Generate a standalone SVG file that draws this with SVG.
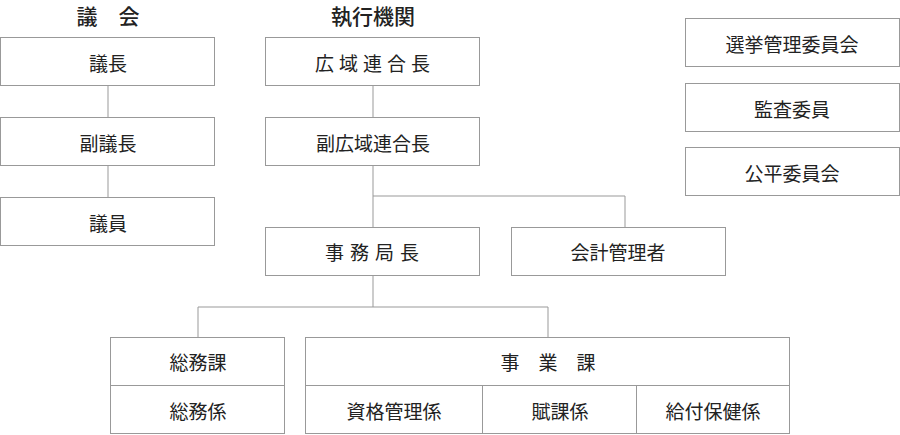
<svg xmlns="http://www.w3.org/2000/svg" width="900" height="435" viewBox="0 0 900 435">
<style>
rect{fill:#fff;stroke:#999;stroke-width:1}
text{font-family:"Noto Sans CJK JP",sans-serif;font-size:19px;fill:#222;text-anchor:middle;dominant-baseline:central}
.h{font-size:21px;font-weight:500}
#c line{stroke:#999;stroke-width:1}
</style>
<rect x="0" y="0" width="900" height="435" style="stroke:none"/>
<g id="c">
<line x1="108" y1="86" x2="108" y2="118"/>
<line x1="108" y1="166" x2="108" y2="198"/>
<line x1="373" y1="86" x2="373" y2="118"/>
<line x1="373" y1="166" x2="373" y2="227"/>
<line x1="373" y1="196" x2="625" y2="196"/>
<line x1="625" y1="196" x2="625" y2="227"/>
<line x1="373" y1="275" x2="373" y2="307"/>
<line x1="198" y1="307" x2="548" y2="307"/>
<line x1="198" y1="307" x2="198" y2="337"/>
<line x1="548" y1="307" x2="548" y2="337"/>
</g>
<text class="h" x="108" y="15">議　会</text>
<text class="h" x="373" y="15">執行機関</text>
<g id="n1"><rect x="0.5" y="37.5" width="214" height="48"/><text x="108" y="62">議長</text></g>
<g id="n2"><rect x="0.5" y="117.5" width="214" height="48"/><text x="108" y="142">副議長</text></g>
<g id="n3"><rect x="0.5" y="197.5" width="214" height="48"/><text x="108" y="222">議員</text></g>
<g id="n4"><rect x="265.5" y="37.5" width="214" height="48"/><text x="375" y="62" letter-spacing="5">広域連合長</text></g>
<g id="n5"><rect x="265.5" y="117.5" width="214" height="48"/><text x="373" y="142">副広域連合長</text></g>
<g id="n6"><rect x="265.5" y="227.5" width="214" height="48"/><text x="375" y="251" letter-spacing="6">事務局長</text></g>
<g id="n7"><rect x="511.5" y="227.5" width="214" height="48"/><text x="618" y="251">会計管理者</text></g>
<g id="n8"><rect x="685.5" y="18.5" width="214" height="48"/><text x="792" y="43">選挙管理委員会</text></g>
<g id="n9"><rect x="685.5" y="83.5" width="214" height="48"/><text x="792" y="108">監査委員</text></g>
<g id="n10"><rect x="685.5" y="147.5" width="214" height="48"/><text x="792" y="172">公平委員会</text></g>
<g id="n11"><rect x="110.5" y="337.5" width="174" height="48"/><text x="198" y="361">総務課</text></g>
<g id="n12"><rect x="110.5" y="385.5" width="174" height="48"/><text x="198" y="410">総務係</text></g>
<g id="n13"><rect x="305.5" y="337.5" width="484" height="48"/><text x="548" y="361">事　業　課</text></g>
<g id="n14"><rect x="305.5" y="385.5" width="177" height="48"/><text x="394" y="410">資格管理係</text></g>
<g id="n15"><rect x="482.5" y="385.5" width="154" height="48"/><text x="560" y="410">賦課係</text></g>
<g id="n16"><rect x="636.5" y="385.5" width="153" height="48"/><text x="713" y="410">給付保健係</text></g>
</svg>
